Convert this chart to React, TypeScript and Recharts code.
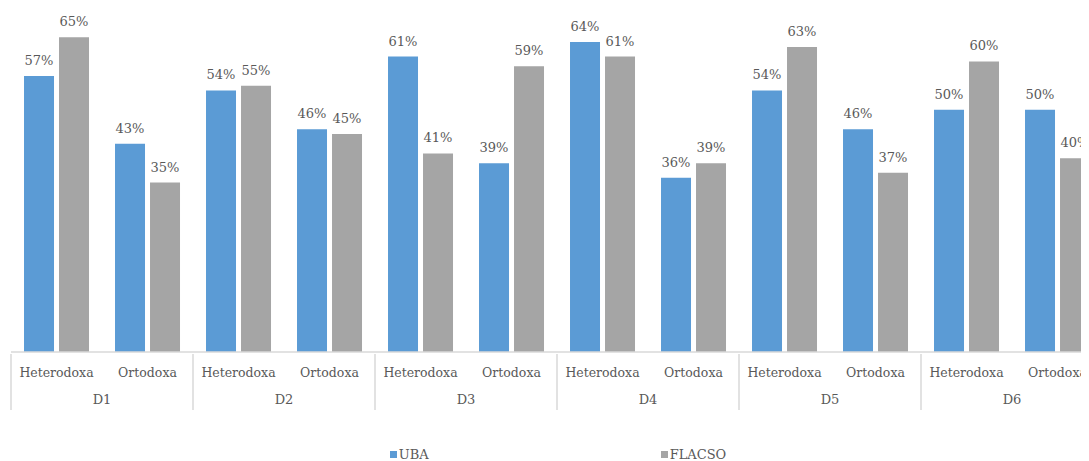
import React from "react";
import { BarChart, Bar, XAxis, YAxis, Legend, LabelList } from "recharts";

const groups = ["D1", "D2", "D3", "D4", "D5", "D6"];
const categories = ["Heterodoxa", "Ortodoxa"];
const seriesNames = ["UBA", "FLACSO"];
const uba = [57, 43, 54, 46, 61, 39, 64, 36, 54, 46, 50, 50];
const flacso = [65, 35, 55, 45, 41, 59, 61, 39, 63, 37, 60, 40];

const data = groups.flatMap((g, gi) =>
    categories.map((c, ci) => ({
        key: `${g}-${c}`,
        group: g,
        cat: c,
        UBA: uba[gi * 2 + ci],
        FLACSO: flacso[gi * 2 + ci],
    }))
);

const W = 1100;
const H = 453;
const margin = { top: 5, right: 5, left: 3, bottom: 53 };
const plotW = W - margin.left - margin.right;
const bandW = plotW / data.length;

const FONT = "'DejaVu Serif', serif";
const TEXT = "#595959";
const RULE = "#d9d9d9";
const COLORS: Record<string, string> = { UBA: "#5B9BD5", FLACSO: "#A5A5A5" };

const CatTick = (props: any) => {
    const { x, y, payload, index } = props;
    const item = data[index];
    const first = item && item.cat === categories[0];
    return (
        <g>
            {first && (
                <line x1={x - bandW / 2} x2={x - bandW / 2} y1={y} y2={y + 56} stroke={RULE} strokeWidth={1.5} />
            )}
            <text x={x} y={y + 23} textAnchor="middle" fill={TEXT} style={{ fontFamily: FONT, fontSize: 12.5 }}>
                {item ? item.cat : payload.value}
            </text>
        </g>
    );
};

const GroupTick = (props: any) => {
    const { x, y, payload } = props;
    return (
        <text x={x} y={y + 22} textAnchor="middle" fill={TEXT} style={{ fontFamily: FONT, fontSize: 13 }}>
            {payload.value}
        </text>
    );
};

const LegendContent = () => (
    <div style={{ display: "flex", justifyContent: "center", gap: 232, fontFamily: FONT, fontSize: 13, color: TEXT }}>
        {seriesNames.map((s) => (
            <span key={s} style={{ display: "flex", alignItems: "center" }}>
                <span style={{ width: 7, height: 7, background: COLORS[s], marginRight: 2, display: "inline-block" }} />
                {s}
            </span>
        ))}
    </div>
);

export default function App() {
    return (
        <div style={{ width: 1081, height: H, overflow: "hidden", fontFamily: FONT }}>
            <BarChart
                width={W}
                height={H}
                data={data}
                margin={margin}
                barCategoryGap="14.3%"
                barGap={5}
                style={{ fontFamily: FONT }}
            >
                <YAxis hide domain={[0, 70]} type="number" />
                <XAxis
                    dataKey="key"
                    height={28}
                    tickLine={false}
                    tickSize={0}
                    axisLine={{ stroke: RULE, strokeWidth: 1.5 }}
                    interval={0}
                    tick={<CatTick />}
                />
                <XAxis
                    xAxisId="grp"
                    dataKey="group"
                    allowDuplicatedCategory={false}
                    height={28}
                    tickLine={false}
                    tickSize={0}
                    axisLine={false}
                    interval={0}
                    tick={<GroupTick />}
                />
                <Legend
                    layout="horizontal"
                    verticalAlign="middle"
                    align="center"
                    wrapperStyle={{ top: 439, left: 0, width: W }}
                    content={<LegendContent />}
                />
                {seriesNames.map((s) => (
                    <Bar key={s} dataKey={s} fill={COLORS[s]} isAnimationActive={false}>
                        <LabelList
                            dataKey={s}
                            position="top"
                            offset={11}
                            formatter={(v: any) => `${v}%`}
                            fill={TEXT}
                            style={{ fontFamily: FONT, fontSize: 13 }}
                        />
                    </Bar>
                ))}
            </BarChart>
        </div>
    );
}
